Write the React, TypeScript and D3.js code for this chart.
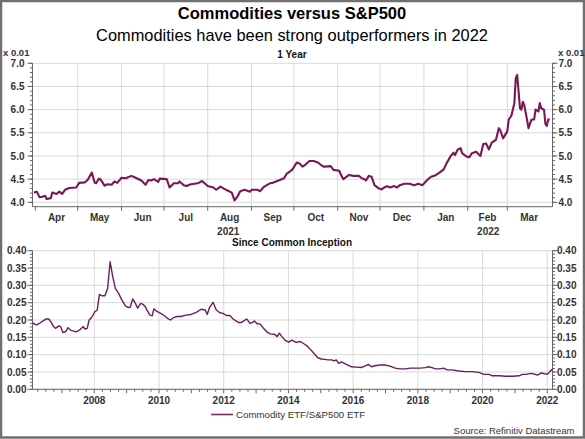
import React from 'react';
import * as d3 from 'd3';

// ---- 1 Year series (Commodity ETF / S&P500 ETF, x 0.01) ----
const oneYearDates = [
  '2021-03-31','2021-04-02','2021-04-04','2021-04-06','2021-04-08','2021-04-09','2021-04-12','2021-04-13','2021-04-16','2021-04-18',
  '2021-04-20','2021-04-22','2021-04-25','2021-04-30','2021-05-02','2021-05-06','2021-05-08','2021-05-11','2021-05-13','2021-05-14',
  '2021-05-16','2021-05-17','2021-05-20','2021-05-22','2021-05-25','2021-05-27','2021-05-29','2021-06-01','2021-06-04','2021-06-08',
  '2021-06-11','2021-06-15','2021-06-18','2021-06-20','2021-06-22','2021-06-24','2021-06-27','2021-06-28','2021-07-03','2021-07-05',
  '2021-07-08','2021-07-11','2021-07-12','2021-07-15','2021-07-17','2021-07-20','2021-07-25','2021-07-28','2021-08-01','2021-08-05',
  '2021-08-07','2021-08-10','2021-08-14','2021-08-18','2021-08-20','2021-08-22','2021-08-24','2021-08-27','2021-08-31','2021-09-01',
  '2021-09-05','2021-09-07','2021-09-10','2021-09-14','2021-09-16','2021-09-21','2021-09-24','2021-09-26','2021-09-28','2021-09-30',
  '2021-10-03','2021-10-05','2021-10-07','2021-10-09','2021-10-12','2021-10-15','2021-10-18','2021-10-20','2021-10-22','2021-10-23',
  '2021-10-27','2021-10-29','2021-11-02','2021-11-04','2021-11-05','2021-11-09','2021-11-12','2021-11-16','2021-11-18','2021-11-20',
  '2021-11-21','2021-11-23','2021-11-25','2021-11-27','2021-11-30','2021-12-02','2021-12-04','2021-12-06','2021-12-08','2021-12-11',
  '2021-12-13','2021-12-15','2021-12-18','2021-12-22','2021-12-25','2021-12-28','2021-12-31','2022-01-03','2022-01-06','2022-01-09',
  '2022-01-12','2022-01-15','2022-01-17','2022-01-20','2022-01-22','2022-01-23','2022-01-25','2022-01-27','2022-01-28','2022-01-31',
  '2022-02-02','2022-02-04','2022-02-07','2022-02-10','2022-02-12','2022-02-14','2022-02-16','2022-02-18','2022-02-21','2022-02-23',
  '2022-02-24','2022-02-26','2022-03-01','2022-03-02','2022-03-04','2022-03-06','2022-03-07','2022-03-08','2022-03-10','2022-03-11',
  '2022-03-12','2022-03-13','2022-03-15','2022-03-16','2022-03-18','2022-03-20','2022-03-21','2022-03-23','2022-03-24','2022-03-25',
  '2022-03-27','2022-03-28','2022-03-29','2022-03-30','2022-03-31'
];
const oneYearValues = [
  4.21,4.23,4.11,4.12,4.14,4.07,4.09,4.21,4.18,4.23,
  4.18,4.27,4.31,4.32,4.42,4.43,4.48,4.64,4.42,4.41,
  4.51,4.50,4.36,4.39,4.38,4.45,4.42,4.53,4.52,4.57,
  4.53,4.47,4.38,4.48,4.47,4.50,4.44,4.51,4.50,4.32,
  4.41,4.41,4.45,4.37,4.35,4.39,4.41,4.46,4.35,4.32,
  4.27,4.34,4.27,4.21,4.04,4.12,4.24,4.27,4.23,4.27,
  4.27,4.24,4.34,4.41,4.42,4.48,4.52,4.62,4.66,4.71,
  4.86,4.84,4.77,4.81,4.89,4.89,4.86,4.81,4.77,4.77,
  4.78,4.70,4.68,4.55,4.50,4.59,4.57,4.57,4.52,4.50,
  4.47,4.57,4.55,4.37,4.30,4.28,4.32,4.35,4.32,4.35,
  4.32,4.37,4.40,4.40,4.37,4.40,4.37,4.47,4.55,4.58,
  4.64,4.71,4.84,5.00,5.07,5.02,5.14,5.17,5.06,4.99,
  4.97,5.06,5.09,5.00,5.26,5.27,5.14,5.29,5.35,5.60,
  5.56,5.38,5.53,5.78,5.88,6.14,6.68,6.75,6.03,6.00,
  6.17,6.10,5.78,5.60,5.78,5.79,6.00,5.96,6.14,6.03,
  6.00,5.69,5.65,5.79,5.79
];

// ---- Since Common Inception series (decimal year, ratio) ----
const inceptionYears = [
  2006.09,2006.15,2006.22,2006.30,2006.41,2006.51,2006.59,2006.67,2006.74,2006.80,
  2006.91,2006.96,2007.03,2007.11,2007.19,2007.26,2007.36,2007.45,2007.57,2007.66,
  2007.71,2007.78,2007.84,2007.92,2008.02,2008.09,2008.16,2008.23,2008.33,2008.41,
  2008.49,2008.57,2008.65,2008.75,2008.85,2008.96,2009.06,2009.11,2009.19,2009.27,
  2009.34,2009.43,2009.51,2009.58,2009.64,2009.72,2009.79,2009.84,2009.95,2010.05,
  2010.16,2010.26,2010.36,2010.45,2010.55,2010.68,2010.83,2010.99,2011.15,2011.30,
  2011.43,2011.49,2011.56,2011.67,2011.77,2011.88,2011.98,2012.08,2012.19,2012.29,
  2012.45,2012.55,2012.71,2012.81,2012.89,2012.95,2013.02,2013.13,2013.23,2013.33,
  2013.44,2013.57,2013.65,2013.72,2013.80,2013.89,2014.01,2014.11,2014.22,2014.27,
  2014.37,2014.50,2014.60,2014.70,2014.81,2014.91,2015.02,2015.12,2015.22,2015.33,
  2015.41,2015.48,2015.55,2015.64,2015.79,2015.95,2016.10,2016.26,2016.36,2016.47,
  2016.57,2016.67,2016.83,2016.98,2017.14,2017.30,2017.45,2017.61,2017.76,2017.92,
  2018.07,2018.23,2018.33,2018.44,2018.54,2018.69,2018.80,2018.90,2019.06,2019.26,
  2019.47,2019.68,2019.89,2020.04,2020.20,2020.30,2020.51,2020.72,2020.92,2021.13,
  2021.23,2021.34,2021.49,2021.60,2021.70,2021.80,2021.91,2022.01,2022.08,2022.17
];
const inceptionValues = [
  0.193,0.188,0.186,0.190,0.197,0.203,0.203,0.193,0.181,0.176,
  0.183,0.181,0.164,0.166,0.178,0.171,0.168,0.166,0.173,0.181,
  0.174,0.176,0.200,0.208,0.224,0.229,0.274,0.270,0.270,0.291,
  0.368,0.325,0.291,0.277,0.258,0.241,0.236,0.237,0.261,0.248,
  0.234,0.248,0.245,0.238,0.226,0.214,0.212,0.232,0.224,0.219,
  0.213,0.205,0.200,0.207,0.210,0.210,0.214,0.216,0.222,0.231,
  0.229,0.216,0.236,0.251,0.229,0.221,0.219,0.213,0.213,0.203,
  0.193,0.193,0.203,0.190,0.193,0.197,0.190,0.188,0.176,0.166,
  0.160,0.159,0.152,0.162,0.152,0.142,0.136,0.142,0.136,0.136,
  0.138,0.130,0.123,0.113,0.101,0.091,0.0875,0.0865,0.085,0.085,
  0.082,0.085,0.075,0.079,0.072,0.065,0.064,0.063,0.067,0.072,
  0.065,0.068,0.070,0.070,0.067,0.061,0.059,0.059,0.061,0.061,
  0.061,0.0625,0.065,0.0625,0.059,0.059,0.061,0.056,0.056,0.053,
  0.051,0.051,0.049,0.043,0.043,0.039,0.039,0.0375,0.0375,0.039,
  0.043,0.043,0.046,0.044,0.041,0.047,0.045,0.044,0.051,0.059
];

// ---- Tick values / labels ----
const topYTicks = [4.0, 4.5, 5.0, 5.5, 6.0, 6.5, 7.0];
const bottomYTicks = [0, 0.05, 0.1, 0.15, 0.2, 0.25, 0.3, 0.35, 0.4];
const yearTicks = [2008, 2010, 2012, 2014, 2016, 2018, 2020, 2022];

const titleText = 'Commodities versus S&P500';
const subtitleText = 'Commodities have been strong outperformers in 2022';
const topPanelTitle = '1 Year';
const bottomPanelTitle = 'Since Common Inception';
const legendLabel = 'Commodity ETF/S&P500 ETF';
const sourceText = 'Source: Refinitiv Datastream';
const unitLabel = 'x 0.01';

export default function App() {
  const W = 585, H = 439;
  const font = "Arial, 'Liberation Sans', Helvetica, sans-serif";
  const L = 32.5, R = 552.5;
  const axisCol = '#666';
  const gridCol = '#d9d9d9';
  const labelCol = '#333';
  const parse = d3.timeParse('%Y-%m-%d');

  // top chart scales
  const tStart = new Date(2021, 2, 30);
  const tEnd = new Date(2022, 3, 2);
  const topX = d3.scaleTime().domain([tStart, tEnd]).range([L, R]);
  const topY = d3.scaleLinear().domain([3.905, 7.0]).range([206.7, 63.3]);
  const topBottom = topY(3.905);
  const topTop = topY(7.0);

  const topData = oneYearDates.map((d, i) => ({ d: parse(d) as Date, v: oneYearValues[i] }));
  const topLine = d3.line<{ d: Date; v: number }>().x(p => topX(p.d)).y(p => topY(p.v));

  const monthStarts = d3.timeMonth.range(d3.timeMonth.floor(tStart), tEnd);
  const monthBounds = d3.timeMonth.range(d3.timeMonth.ceil(tStart), tEnd);
  const monthLabels = monthStarts
    .map(m => {
      const a = Math.max(topX(m), L);
      const b = Math.min(topX(d3.timeMonth.offset(m, 1)), R);
      return { x: (a + b) / 2, w: b - a, t: d3.timeFormat('%b')(m) };
    })
    .filter(m => m.w > 20);
  const jan22 = new Date(2022, 0, 1);
  const yearLabels = [
    { x: (L + topX(jan22)) / 2, t: '2021' },
    { x: (topX(jan22) + R) / 2, t: '2022' },
  ];
  const topMinor = d3.range(40, 71).map(v => v / 10);

  // bottom chart scales
  const botX = d3.scaleLinear().domain([2006.09, 2022.161]).range([L, R]);
  const botY = d3.scaleLinear().domain([0, 0.4]).range([389.3, 250.7]);
  const botData = inceptionYears.map((y, i) => ({ y, v: inceptionValues[i] }));
  const botLine = d3.line<{ y: number; v: number }>().x(p => botX(p.y)).y(p => botY(p.v));
  const quarterTicks = d3.range(2006.25, 2022.2, 0.25).filter(q => botX(q) > L + 1 && botX(q) < R - 1);
  const botMinor = d3.range(0, 41).map(v => v / 100);

  const tickLabelStyle = { fontFamily: font, fontSize: 10, fontWeight: 700, fill: labelCol } as const;

  return (
    <svg width={W} height={H} style={{ position: 'absolute', left: 0, top: 0, background: '#fff' }}>
      <rect x={1} y={1} width={W - 2} height={H - 2.5} fill="#fff" stroke="#707070" strokeWidth={2.5} />

      {/* titles */}
      <text x={292} y={18.8} textAnchor="middle" style={{ fontFamily: font, fontSize: 16.5, fontWeight: 700, fill: '#000' }}>{titleText}</text>
      <text x={292} y={41} textAnchor="middle" style={{ fontFamily: font, fontSize: 16.4, fill: '#000' }}>{subtitleText}</text>

      {/* ===== TOP CHART ===== */}
      <text x={292} y={58.3} textAnchor="middle" style={{ fontFamily: font, fontSize: 10, fontWeight: 700, fill: '#111' }}>{topPanelTitle}</text>
      <text x={3} y={55.8} style={{ fontFamily: font, fontSize: 9.5, fontWeight: 700, fill: labelCol }}>{unitLabel}</text>
      <text x={558} y={55.8} style={{ fontFamily: font, fontSize: 9.5, fontWeight: 700, fill: labelCol }}>{unitLabel}</text>

      {/* grid */}
      {topYTicks.map(t => (
        <line key={'tg' + t} x1={L} x2={R} y1={topY(t)} y2={topY(t)} stroke={gridCol} strokeWidth={1} />
      ))}
      {monthBounds.filter(m => topX(m) > L + 3 && topX(m) < R - 3).map(m => (
        <line key={'mg' + m.getTime()} x1={topX(m)} x2={topX(m)} y1={topTop} y2={topBottom} stroke={gridCol} strokeWidth={1} />
      ))}

      {/* axes */}
      <line x1={L} x2={L} y1={topTop} y2={topBottom} stroke={axisCol} strokeWidth={1} />
      <line x1={R} x2={R} y1={topTop} y2={topBottom} stroke={axisCol} strokeWidth={1} />
      <line x1={L} x2={R} y1={topBottom} y2={topBottom} stroke={axisCol} strokeWidth={1} />
      {topMinor.map(t => (
        <g key={'tm' + t}>
          <line x1={L - 2.5} x2={L} y1={topY(t)} y2={topY(t)} stroke={axisCol} strokeWidth={1} />
          <line x1={R} x2={R + 2.5} y1={topY(t)} y2={topY(t)} stroke={axisCol} strokeWidth={1} />
        </g>
      ))}
      {topYTicks.map(t => (
        <g key={'tt' + t}>
          <line x1={L - 5} x2={L} y1={topY(t)} y2={topY(t)} stroke={axisCol} strokeWidth={1} />
          <line x1={R} x2={R + 5} y1={topY(t)} y2={topY(t)} stroke={axisCol} strokeWidth={1} />
          <text x={L - 8} y={topY(t) + 3.6} textAnchor="end" style={tickLabelStyle}>{t.toFixed(1)}</text>
          <text x={R + 6} y={topY(t) + 3.6} textAnchor="start" style={tickLabelStyle}>{t.toFixed(1)}</text>
        </g>
      ))}
      {monthBounds.filter(m => topX(m) < R - 3).map(m => (
        <line key={'mt' + m.getTime()} x1={topX(m)} x2={topX(m)} y1={topBottom} y2={topBottom + 4} stroke={axisCol} strokeWidth={1} />
      ))}
      {monthLabels.map(m => (
        <text key={'ml' + m.t + m.x} x={m.x} y={220.5} textAnchor="middle" style={tickLabelStyle}>{m.t}</text>
      ))}
      {yearLabels.map(y => (
        <text key={'yl' + y.t} x={y.x} y={235.3} textAnchor="middle" style={tickLabelStyle}>{y.t}</text>
      ))}

      <path d={topLine(topData) || ''} fill="none" stroke="#7b1752" strokeWidth={2.1} strokeLinejoin="round" />

      {/* ===== BOTTOM CHART ===== */}
      <text x={292} y={245.8} textAnchor="middle" style={{ fontFamily: font, fontSize: 10, fontWeight: 700, fill: '#111' }}>{bottomPanelTitle}</text>

      {bottomYTicks.map(t => (
        <line key={'bg' + t} x1={L} x2={R} y1={botY(t)} y2={botY(t)} stroke={gridCol} strokeWidth={1} />
      ))}
      {yearTicks.map(y => (
        <line key={'yg' + y} x1={botX(y)} x2={botX(y)} y1={botY(0.4)} y2={botY(0)} stroke={gridCol} strokeWidth={1} />
      ))}

      <line x1={L} x2={L} y1={botY(0.4)} y2={botY(0)} stroke={axisCol} strokeWidth={1} />
      <line x1={R} x2={R} y1={botY(0.4)} y2={botY(0)} stroke={axisCol} strokeWidth={1} />
      <line x1={L} x2={R} y1={botY(0)} y2={botY(0)} stroke={axisCol} strokeWidth={1} />
      {botMinor.map(t => (
        <g key={'bm' + t}>
          <line x1={L - 2.5} x2={L} y1={botY(t)} y2={botY(t)} stroke={axisCol} strokeWidth={1} />
          <line x1={R} x2={R + 2.5} y1={botY(t)} y2={botY(t)} stroke={axisCol} strokeWidth={1} />
        </g>
      ))}
      {bottomYTicks.map(t => (
        <g key={'bt' + t}>
          <line x1={L - 5} x2={L} y1={botY(t)} y2={botY(t)} stroke={axisCol} strokeWidth={1} />
          <line x1={R} x2={R + 5} y1={botY(t)} y2={botY(t)} stroke={axisCol} strokeWidth={1} />
          <text x={L - 6} y={botY(t) + 3.6} textAnchor="end" style={tickLabelStyle}>{t.toFixed(2)}</text>
          <text x={R + 4.5} y={botY(t) + 3.6} textAnchor="start" style={tickLabelStyle}>{t.toFixed(2)}</text>
        </g>
      ))}
      {quarterTicks.map(q => (
        <line key={'qt' + q} x1={botX(q)} x2={botX(q)} y1={botY(0)} y2={botY(0) + (Math.abs(q - Math.round(q)) < 0.01 ? 4 : 2.5)} stroke={axisCol} strokeWidth={1} />
      ))}
      {yearTicks.map(y => (
        <text key={'yt' + y} x={botX(y)} y={404} textAnchor="middle" style={tickLabelStyle}>{y}</text>
      ))}

      <path d={botLine(botData) || ''} fill="none" stroke="#6c1d5c" strokeWidth={1.4} strokeLinejoin="round" />

      {/* legend */}
      <line x1={211} x2={233} y1={414.5} y2={414.5} stroke="#7a2a68" strokeWidth={1.6} />
      <text x={236} y={418} style={{ fontFamily: font, fontSize: 9.7, fill: '#333' }}>{legendLabel}</text>

      {/* source */}
      <text x={574.5} y={433.5} textAnchor="end" style={{ fontFamily: font, fontSize: 9.5, fill: '#333' }}>{sourceText}</text>
    </svg>
  );
}
